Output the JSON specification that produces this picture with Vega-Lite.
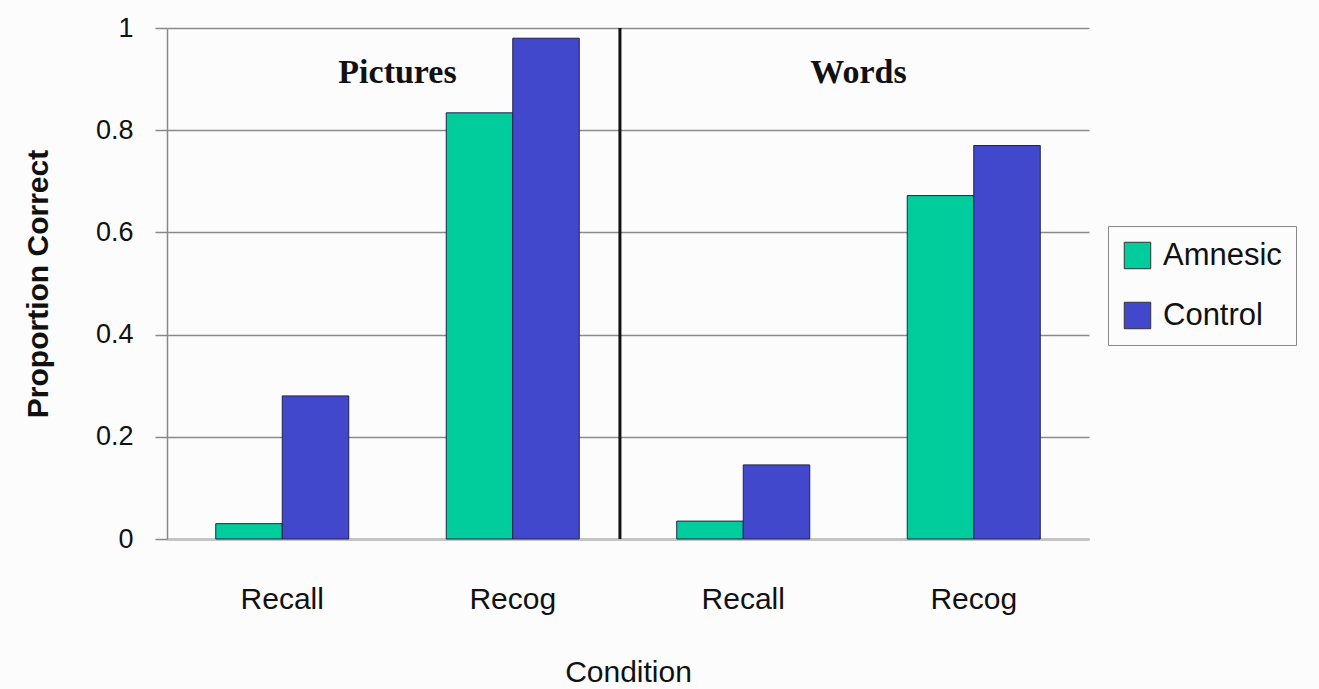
{
  "$schema": "https://vega.github.io/schema/vega-lite/v6.json",
  "width": 922,
  "height": 511,
  "autosize": {"type": "none"},
  "padding": {"left": 167, "top": 28, "right": 230, "bottom": 150},
  "background": "#fcfcfc",
  "config": {
    "view": {"stroke": null},
    "font": "Liberation Sans"
  },
  "datasets": {
    "bars": [
      {"key": "Pictures|Recall", "subject": "Amnesic", "value": 0.03},
      {"key": "Pictures|Recall", "subject": "Control", "value": 0.28},
      {"key": "Pictures|Recog", "subject": "Amnesic", "value": 0.834},
      {"key": "Pictures|Recog", "subject": "Control", "value": 0.98},
      {"key": "Words|Recall", "subject": "Amnesic", "value": 0.035},
      {"key": "Words|Recall", "subject": "Control", "value": 0.145},
      {"key": "Words|Recog", "subject": "Amnesic", "value": 0.672},
      {"key": "Words|Recog", "subject": "Control", "value": 0.77}
    ],
    "divider": [{"pos": 1.965}],
    "groups": [
      {"pos": 1, "name": "Pictures", "y": 0.912},
      {"pos": 3, "name": "Words", "y": 0.912}
    ]
  },
  "layer": [
    {
      "data": {"name": "bars"},
      "mark": {"type": "bar", "stroke": "#222244", "strokeWidth": 1},
      "encoding": {
        "x": {
          "field": "key",
          "type": "nominal",
          "sort": ["Pictures|Recall", "Pictures|Recog", "Words|Recall", "Words|Recog"],
          "scale": {"paddingInner": 0, "paddingOuter": 0},
          "axis": {
            "title": "Condition",
            "titleFontSize": 30,
            "titleFontWeight": "normal",
            "titleColor": "#111111",
            "titlePadding": 43,
            "labelExpr": "split(datum.label, '|')[1]",
            "labelAngle": 0,
            "labelFontSize": 30,
            "labelColor": "#111111",
            "labelPadding": 45,
            "ticks": false,
            "domainColor": "#c4c4c4",
            "domainWidth": 3,
            "grid": false
          }
        },
        "xOffset": {
          "field": "subject",
          "type": "nominal",
          "scale": {"paddingOuter": 0.733, "paddingInner": 0}
        },
        "y": {
          "field": "value",
          "type": "quantitative",
          "scale": {"domain": [0, 1], "nice": false},
          "axis": {
            "title": "Proportion Correct",
            "titleFontSize": 30,
            "titleFontWeight": "bold",
            "titleColor": "#111111",
            "titlePadding": 42,
            "values": [0, 0.2, 0.4, 0.6, 0.8, 1],
            "labelExpr": "datum.value == 0 ? '0' : datum.value == 1 ? '1' : format(datum.value, '.1f')",
            "labelFontSize": 27,
            "labelFontWeight": "normal",
            "labelColor": "#111111",
            "labelPadding": 22,
            "tickSize": 12,
            "tickColor": "#888888",
            "tickWidth": 1.5,
            "domainColor": "#888888",
            "domainWidth": 1.5,
            "gridColor": "#8a8a8a",
            "gridWidth": 1.5
          }
        },
        "color": {
          "field": "subject",
          "type": "nominal",
          "scale": {"domain": ["Amnesic", "Control"], "range": ["#00cc9c", "#4248cc"]},
          "legend": {
            "title": null,
            "orient": "none",
            "legendX": 941,
            "legendY": 198,
            "symbolType": "square",
            "symbolSize": 700,
            "symbolStrokeColor": "#333333",
            "symbolStrokeWidth": 1,
            "symbolOpacity": 1,
            "labelFontSize": 31,
            "labelColor": "#111111",
            "labelOffset": 10,
            "rowPadding": 28,
            "strokeColor": "#888888",
            "padding": 14,
            "fillColor": "#fcfcfc"
          }
        }
      }
    },
    {
      "data": {"name": "divider"},
      "mark": {"type": "rule", "color": "#111111", "strokeWidth": 3},
      "encoding": {
        "x": {"field": "pos", "type": "quantitative", "scale": {"domain": [0, 4], "nice": false}, "axis": null},
        "y": {"datum": 0, "type": "quantitative"},
        "y2": {"datum": 1}
      }
    },
    {
      "data": {"name": "groups"},
      "mark": {"type": "text", "font": "Liberation Serif", "fontWeight": "bold", "fontSize": 34, "color": "#111111", "baseline": "middle"},
      "encoding": {
        "x": {"field": "pos", "type": "quantitative", "scale": {"domain": [0, 4], "nice": false}, "axis": null},
        "y": {"field": "y", "type": "quantitative"},
        "text": {"field": "name"}
      }
    }
  ],
  "resolve": {"scale": {"x": "independent"}}
}
